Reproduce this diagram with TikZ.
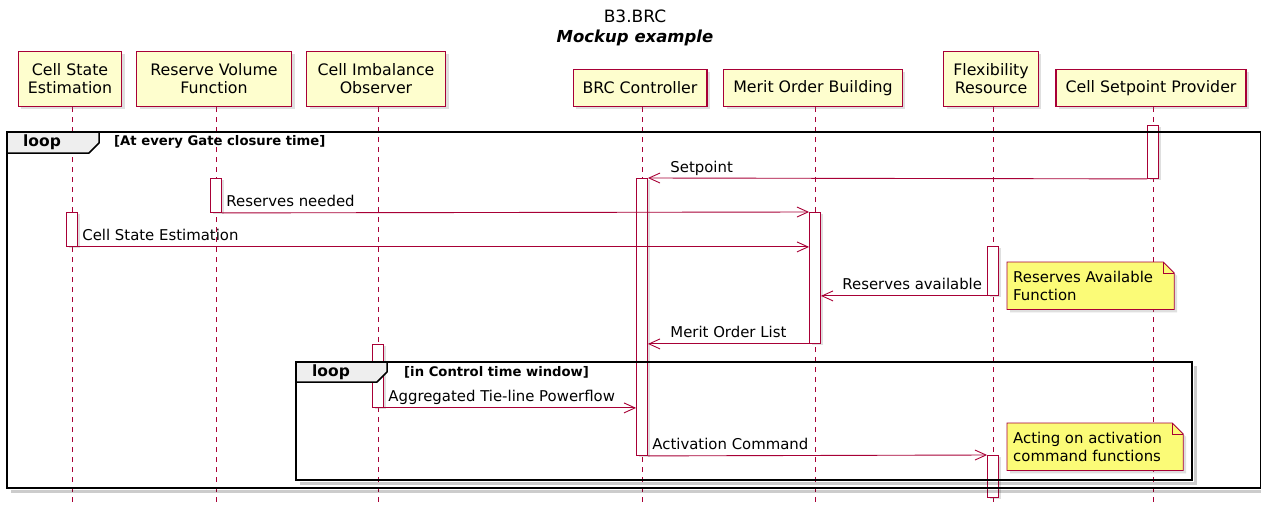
\documentclass[tikz,border=0pt]{standalone}
\usepackage{fontspec}
\setmainfont{DejaVu Sans}
\usetikzlibrary{arrows.meta,calc,positioning,shadows,backgrounds}
\definecolor{umlred}{HTML}{A80036}
\definecolor{umlbox}{HTML}{FEFECE}
\definecolor{umlnote}{HTML}{FBFB77}
\definecolor{umltab}{HTML}{EEEEEE}

\pgfdeclarelayer{lifelines}
\pgfsetlayers{lifelines,background,main}

% activation bar on the lifeline of #2, from y=#3 down to y=#4
\newcommand{\actbar}[4]{%
  \node[actbar,minimum height={#4-#3},anchor=north] (#1) at ([xshift=2pt]#2.south |- 0,#3) {};}

\begin{document}
\begin{tikzpicture}[x=1pt,y=-1pt,
  txt/.style={font=\fontsize{15.8}{18}\selectfont},
  smalltxt/.style={font=\fontsize{14.9}{18}\selectfont},
  participant/.style={txt,draw=umlred,fill=umlbox,line width=1.2pt,align=center,
    inner xsep=9.5pt,inner ysep=2pt,minimum height=37pt,anchor=south,
    drop shadow={shadow xshift=3pt,shadow yshift=-3pt,opacity=.25}},
  tall/.style={minimum height=55pt},
  lifeline/.style={umlred,line width=.9pt,dash pattern=on 5pt off 5pt},
  actbar/.style={draw=umlred,fill=white,line width=.9pt,minimum width=11pt,inner sep=0pt,
    drop shadow={shadow xshift=2pt,shadow yshift=-2pt,opacity=.25}},
  msg/.style={umlred,line width=.9pt,-{Straight Barb[length=11pt,width=10pt]}},
  msglabel/.style={smalltxt,text=black,anchor=base west,inner sep=0pt,yshift=6pt},
  frame/.style={draw=black,line width=2pt},
  frameshadow/.style={black,opacity=.2,line width=3pt},
  looptab/.style={draw=black,fill=umltab,line width=1.5pt,line join=round},
  looplabel/.style={font=\fontsize{15.5}{18}\selectfont\bfseries,inner sep=0pt},
  guard/.style={font=\fontsize{13.2}{15}\selectfont\bfseries,anchor=west,inner sep=0pt},
  notetext/.style={smalltxt,align=left,anchor=north west,inner sep=0pt,minimum height=47pt},
  notebox/.style={draw=umlred,fill=umlnote,line width=.8pt,
    drop shadow={shadow xshift=3pt,shadow yshift=-3pt,opacity=.25}}
]
\useasboundingbox (0,0) rectangle (1261,504);
\begin{pgfonlayer}{lifelines}
  \fill[white] (0,0) rectangle (1261,504);
\end{pgfonlayer}

% title
\node[font=\fontsize{17}{20}\selectfont] (title) at (635,16) {B3.BRC};
\node[font=\fontsize{16.5}{20}\selectfont\bfseries\itshape,below=0pt of title] (subtitle) {Mockup example};

% participants
\node[participant,tall] (cse) at (70,107) {Cell State\\Estimation};
\node[participant,tall,minimum width=155pt] (rvf) at (214,107) {Reserve Volume\\Function};
\node[participant,tall,minimum width=139pt] (cio) at (376,107) {Cell Imbalance\\Observer};
\node[participant] (brc) at (640,107) {BRC Controller};
\node[participant] (mob) at (813,107) {Merit Order Building};
\node[participant,tall] (flex) at (991,107) {Flexibility\\Resource};
\node[participant] (csp) at (1151,107) {Cell Setpoint Provider};

% lifelines
\begin{pgfonlayer}{lifelines}
  \foreach \p in {cse,rvf,cio,brc,mob,flex,csp}
    \draw[lifeline] ([xshift=2pt]\p.south) -- ([xshift=2pt]\p.south |- 0,504);
\end{pgfonlayer}

% activations
\actbar{csp1}{csp}{125}{178}
\actbar{brc1}{brc}{178}{455}
\actbar{rvf1}{rvf}{178}{212}
\actbar{mob1}{mob}{212}{343}
\actbar{cse1}{cse}{212}{246}
\actbar{flex1}{flex}{246}{295}
\actbar{cio1}{cio}{344}{407}
\actbar{flex2}{flex}{455}{497}

% outer loop
\draw[frameshadow] (11,491) -- (1264,491);
\draw[frame] (7,132) rectangle (1261,488);
\draw[looptab] (7,132) -- (99,132) -- (99,143) -- (89,153) -- (7,153) -- cycle;
\node[looplabel] (loopA) at (42,142) {loop};
\node[guard] (condA) at (114,142) {[At every Gate closure time]};

% inner loop
\draw[frameshadow] (300,483) -- (1195,483) -- (1195,366);
\draw[frame] (296,362) rectangle (1192,480);
\draw[looptab] (296,362) -- (387,362) -- (387,372) -- (377,382) -- (296,382) -- cycle;
\node[looplabel] (loopB) at (331,372) {loop};
\node[guard] (condB) at (404,372) {[in Control time window]};

% messages
\draw[msg] (csp1.south west) -- (brc1.north east)
  node[msglabel,pos=1,xshift=22pt] (mSet) {Setpoint};
\draw[msg] (rvf1.south east) -- (mob1.north west)
  node[msglabel,pos=0,xshift=4pt] (mNeed) {Reserves needed};
\draw[msg] (cse1.south east) -- (cse1.south east -| mob1.west)
  node[msglabel,pos=0,xshift=4pt] (mCse) {Cell State Estimation};
\draw[msg] (flex1.south west) -- (flex1.south west -| mob1.east)
  node[msglabel,pos=1,xshift=21pt] (mAvail) {Reserves available};
\draw[msg] (mob1.south west) -- (mob1.south west -| brc1.east)
  node[msglabel,pos=1,xshift=22pt] (mList) {Merit Order List};
\draw[msg] (cio1.south east) -- (cio1.south east -| brc1.west)
  node[msglabel,pos=0,xshift=4pt] (mFlow) {Aggregated Tie-line Powerflow};
\draw[msg] (brc1.south east) -- (flex2.north west)
  node[msglabel,pos=0,xshift=4pt] (mAct) {Activation Command};

% notes (text left edge, box spans 6pt left and 21pt right of it)
\node[notetext] (note1) at (1013,262) {Reserves Available\\Function};
\node[notetext] (note2) at (1013,423) {Acting on activation\\command functions};
\begin{scope}[on background layer]
  \foreach \n in {note1,note2} {
    \draw[notebox] ([xshift=-6pt]\n.north west) -- ([xshift=10pt]\n.north east) -- ([xshift=21pt,yshift=-11pt]\n.north east)
      -- ([xshift=21pt]\n.south east) -- ([xshift=-6pt]\n.south west) -- cycle;
    \draw[umlred,line width=.8pt] ([xshift=10pt]\n.north east) |- ([xshift=21pt,yshift=-11pt]\n.north east);
  }
\end{scope}
\end{tikzpicture}
\end{document}
